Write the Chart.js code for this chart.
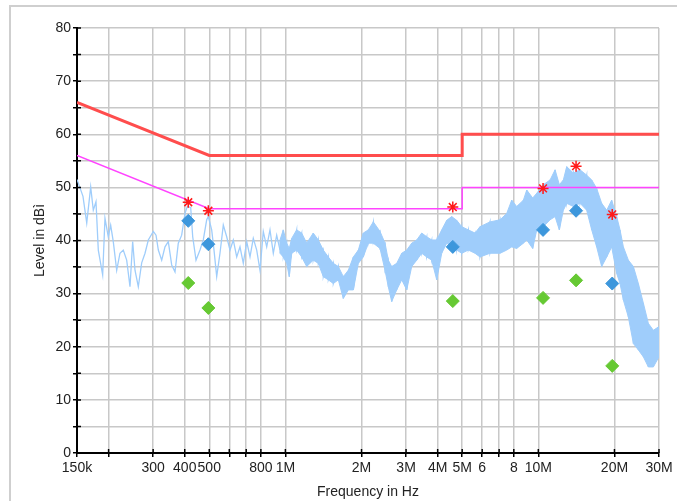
<!DOCTYPE html>
<html>
<head>
<meta charset="utf-8">
<script src="https://cdn.jsdelivr.net/npm/chart.js@4.4.0/dist/chart.umd.min.js"></script>
<style>
    html, body { margin: 0; padding: 0; background: #fff; }
</style>
</head>
<body>
<canvas id="myChart" width="677" height="501"></canvas>
<script>
// axis ticks
var xTicks = [150e3, 200e3, 300e3, 400e3, 500e3, 600e3, 700e3, 800e3, 1e6, 2e6, 3e6, 4e6, 5e6, 6e6, 7e6, 8e6, 10e6, 20e6, 30e6];
var xTickLabels = ['150k', '', '300', '400', '500', '', '', '800', '1M', '2M', '3M', '4M', '5M', '6', '', '8', '10M', '20M', '30M'];
var yTicks = [0, 5, 10, 15, 20, 25, 30, 35, 40, 45, 50, 55, 60, 65, 70, 75, 80];
var yTickLabels = ['0', '', '10', '', '20', '', '30', '', '40', '', '50', '', '60', '', '70', '', '80'];

// limit lines
var limitFreq = [150e3, 500e3, 5e6, 5e6, 30e6];
var limitQp = [66, 56, 56, 60, 60];
var limitAv = [56, 46, 46, 50, 50];

// final measurements
var finalFreq = [413e3, 496e3, 4.59e6, 10.44e6, 14.1e6, 19.6e6];
var finalPeak = [47.2, 45.6, 46.3, 49.8, 54.0, 44.9];
var finalQp = [43.7, 39.3, 38.8, 42.0, 45.6, 31.9];
var finalAv = [32.0, 27.3, 28.6, 29.2, 32.5, 16.4];

// preview scan, low part (single trace)
var traceFreq = [150000, 158400, 163900, 169900, 174000, 178300, 182100, 189500, 193500, 199400,
    203800, 208700, 215300, 221800, 228600, 235800, 243000, 249000, 254300, 262100,
    270300, 278600, 287100, 300500, 308000, 314500, 324300, 334200, 344400, 355200,
    366100, 377200, 389000, 400900, 409400, 422300, 430100, 443200, 459600, 473600,
    488500, 495700, 511200, 522100, 535100, 551300, 568200, 586100, 603900, 622300,
    642000, 661500, 681700, 703100, 724600, 746600, 770200, 793600, 817700, 843500,
    869200, 895800, 923900, 952200];
var traceLevel = [51.5, 48.3, 43.3, 50.1, 45.7, 47.3, 38.2, 33.5, 44.2, 40.7,
    42.9, 39.8, 34.4, 37.6, 38.2, 36.3, 31.3, 39.8, 34.4, 31.3,
    35.8, 37.6, 40.1, 41.7, 41.0, 38.2, 36.3, 38.8, 39.8, 35.4,
    34.1, 39.5, 41.0, 45.1, 46.4, 46.2, 40.7, 36.3, 38.2, 40.1,
    43.9, 44.5, 42.0, 38.2, 33.2, 37.6, 42.9, 40.7, 38.2, 40.1,
    36.9, 38.8, 35.7, 39.8, 36.9, 40.4, 38.2, 34.4, 41.7, 38.8,
    42.0, 37.6, 41.0, 38.2];

// preview scan, dense part (top and bottom of the band)
var bandFreq = [952e3, 981e3, 1.012e6, 1.036e6, 1.059e6, 1.108e6, 1.16e6, 1.214e6, 1.289e6, 1.349e6,
    1.412e6, 1.478e6, 1.547e6, 1.619e6, 1.694e6, 1.774e6, 1.856e6, 1.943e6, 2.032e6, 2.127e6,
    2.227e6, 2.367e6, 2.477e6, 2.552e6, 2.632e6, 2.755e6, 2.884e6, 3.018e6, 3.158e6, 3.306e6,
    3.459e6, 3.621e6, 3.789e6, 3.966e6, 4.15e6, 4.344e6, 4.545e6, 4.757e6, 4.979e6, 5.288e6,
    5.62e6, 5.88e6, 6.44e6, 7.06e6, 7.5e6, 7.85e6, 8.21e6, 8.73e6, 9.0e6, 9.5e6,
    9.86e6, 10.47e6, 11.13e6, 11.65e6, 12.11e6, 12.56e6, 12.95e6, 13.76e6, 14.62e6, 15.53e6,
    16.26e6, 17.01e6, 17.8e6, 18.64e6, 19.5e6, 20.41e6, 21.04e6, 21.69e6, 22.7e6, 23.76e6,
    24.86e6, 26.02e6, 27.23e6, 28.5e6, 30e6];
var bandHigh = [40.1, 42.0, 39.5, 38.5, 40.4, 42.0, 41.4, 39.5, 41.4, 40.1,
    38.2, 36.9, 35.7, 35.1, 33.2, 34.4, 36.9, 38.2, 41.4, 42.0,
    43.5, 41.7, 39.5, 36.3, 35.1, 35.7, 37.6, 38.2, 39.5, 40.1,
    41.4, 40.7, 40.1, 40.1, 42.0, 43.8, 44.5, 43.8, 42.6, 42.0,
    41.4, 42.6, 43.5, 43.9, 45.1, 47.6, 46.4, 47.6, 49.5, 48.0,
    48.9, 50.5, 51.4, 53.3, 50.5, 51.4, 53.9, 52.7, 53.3, 52.3,
    51.4, 49.8, 47.0, 45.7, 47.6, 44.5, 42.0, 38.8, 36.3, 35.1,
    31.9, 28.2, 24.4, 23.1, 23.8];
var bandLow = [37.6, 36.9, 35.7, 33.2, 37.6, 38.2, 36.9, 35.1, 36.3, 35.7,
    33.2, 32.6, 31.9, 32.6, 29.1, 30.7, 30.7, 35.7, 36.9, 39.5,
    39.5, 38.5, 34.4, 31.3, 28.5, 30.7, 32.6, 30.7, 35.1, 36.3,
    37.6, 36.9, 36.3, 32.6, 37.6, 39.5, 38.8, 38.2, 37.6, 38.2,
    37.6, 36.9, 37.6, 37.6, 38.2, 38.8, 38.5, 39.5, 40.1, 38.5,
    42.0, 42.6, 43.9, 44.5, 42.0, 45.7, 47.0, 46.4, 47.0, 45.7,
    42.0, 38.8, 35.1, 36.9, 38.8, 33.8, 31.9, 28.8, 25.6, 20.6,
    19.4, 18.1, 16.2, 16.2, 18.1];

var traceColor = '#9fcdfb';

const toPoints = (xs, ys) => xs.map((x, i) => ({x: x, y: ys[i]}));

// zig-zag through top and bottom of the band so it looks like a noisy scan
const zigzag = () => {
    var pts = [];
    bandFreq.forEach((f, i) => {
        pts.push({x: f, y: bandHigh[i]});
        pts.push({x: f, y: bandLow[i]});
    });
    return pts;
};

const framePlugin = {
    id: 'frame',
    beforeDraw(chart) {
        const ctx = chart.ctx;
        ctx.save();
        ctx.fillStyle = '#fff';
        ctx.fillRect(0, 0, chart.width, chart.height);
        ctx.strokeStyle = '#cfcfcf';
        ctx.lineWidth = 2;
        ctx.beginPath();
        ctx.moveTo(10, chart.height);
        ctx.lineTo(10, 6);
        ctx.lineTo(chart.width, 6);
        ctx.stroke();
        ctx.restore();
    }
};

// tick marks that also reach into the plot area
const innerTicks = {
    id: 'innerTicks',
    afterDraw(chart) {
        const {ctx, chartArea, scales} = chart;
        ctx.save();
        ctx.strokeStyle = '#000';
        ctx.lineWidth = 1.5;
        ctx.beginPath();
        scales.x.ticks.forEach((t) => {
            const px = scales.x.getPixelForValue(t.value);
            ctx.moveTo(px, chartArea.bottom);
            ctx.lineTo(px, chartArea.bottom - 4);
        });
        scales.y.ticks.forEach((t) => {
            const py = scales.y.getPixelForValue(t.value);
            ctx.moveTo(chartArea.left, py);
            ctx.lineTo(chartArea.left + 4, py);
        });
        ctx.stroke();
        ctx.restore();
    }
};

Chart.defaults.font.family = 'Arial, "Liberation Sans", sans-serif';
Chart.defaults.font.size = 14;
Chart.defaults.color = '#222';

var ctx = document.getElementById('myChart').getContext('2d');
var myChart = new Chart(ctx, {
    type: 'scatter',
    data: {
        datasets: [
            {
                label: 'Peak',
                data: toPoints(finalFreq, finalPeak),
                pointStyle: 'star',
                radius: 5.5,
                borderColor: '#ff1a1a',
                borderWidth: 1.5,
            },
            {
                label: 'QP',
                data: toPoints(finalFreq, finalQp),
                pointStyle: 'rectRot',
                radius: 6.5,
                backgroundColor: '#3d97dc',
                borderColor: '#3d97dc',
                borderWidth: 1,
            },
            {
                label: 'AV',
                data: toPoints(finalFreq, finalAv),
                pointStyle: 'rectRot',
                radius: 6.5,
                backgroundColor: '#66c933',
                borderColor: '#66c933',
                borderWidth: 1,
            },
            {
                label: 'QP limit',
                data: toPoints(limitFreq, limitQp),
                showLine: true,
                pointRadius: 0,
                borderColor: '#ff4d4d',
                borderWidth: 3,
            },
            {
                label: 'AV limit',
                data: toPoints(limitFreq, limitAv),
                showLine: true,
                pointRadius: 0,
                borderColor: '#ff44ff',
                borderWidth: 1.5,
            },
            {
                label: 'Scan',
                data: toPoints(traceFreq, traceLevel),
                showLine: true,
                pointRadius: 0,
                borderColor: traceColor,
                borderWidth: 1.3,
            },
            {
                label: 'Scan top',
                data: toPoints(bandFreq, bandHigh),
                showLine: true,
                pointRadius: 0,
                borderColor: traceColor,
                borderWidth: 1,
            },
            {
                label: 'Scan bottom',
                data: toPoints(bandFreq, bandLow),
                showLine: true,
                pointRadius: 0,
                borderColor: traceColor,
                borderWidth: 1,
                fill: '-1',
                backgroundColor: traceColor,
            },
            {
                label: 'Scan zigzag',
                data: zigzag(),
                showLine: true,
                pointRadius: 0,
                borderColor: traceColor,
                borderWidth: 1.2,
            },
        ],
    },
    options: {
        responsive: false,
        animation: false,
        events: [],
        layout: {
            padding: {left: 0, top: 28, right: 18, bottom: 0},
        },
        plugins: {
            legend: {display: false},
            tooltip: {enabled: false},
        },
        scales: {
            x: {
                type: 'logarithmic',
                min: 150e3,
                max: 30e6,
                afterBuildTicks: (s) => { s.ticks = xTicks.map((v) => ({value: v})); },
                afterFit: (s) => { s.height = 48; s.paddingLeft = 0; s.paddingRight = 0; },
                ticks: {
                    autoSkip: false,
                    maxRotation: 0,
                    minRotation: 0,
                    padding: 3,
                    callback: (v, i) => xTickLabels[i],
                },
                grid: {color: '#c8c8c8', lineWidth: 1.5, tickColor: '#000', tickLength: 4, tickWidth: 1.5},
                border: {color: '#000', width: 2},
                title: {display: true, text: 'Frequency in Hz', padding: {top: 0, bottom: 0}},
            },
            y: {
                min: 0,
                max: 80,
                afterBuildTicks: (s) => { s.ticks = yTicks.map((v) => ({value: v})); },
                afterFit: (s) => { s.width = 77; s.paddingTop = 0; s.paddingBottom = 0; },
                ticks: {
                    padding: 2,
                    callback: (v, i) => yTickLabels[i],
                },
                grid: {color: '#c8c8c8', lineWidth: 1.5, tickColor: '#000', tickLength: 4, tickWidth: 1.5},
                border: {color: '#000', width: 2},
                title: {display: true, text: 'Level in dBì', padding: {top: 32, bottom: 0}},
            },
        },
    },
    plugins: [framePlugin, innerTicks],
});
</script>
</body>
</html>
